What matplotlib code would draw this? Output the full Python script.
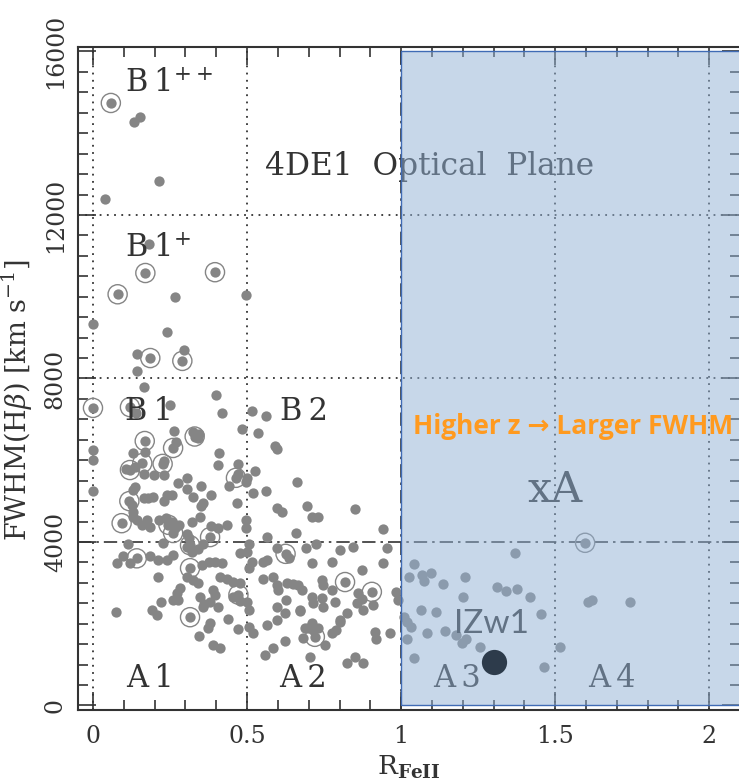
import matplotlib
matplotlib.use("Agg")
import matplotlib.pyplot as plt
from matplotlib.patches import Rectangle
from matplotlib.ticker import MultipleLocator

plt.rcParams['font.family'] = ['DejaVu Serif']
plt.rcParams['mathtext.fontset'] = 'dejavuserif'

# quasar sample: R_FeII vs FWHM(Hbeta) [km/s]
rfe = [0.133, 0.153, 0.215, 0.039, 0.183, 0.266, 0.497, 0.0, 0.24, 0.143,
       0.296, 0.143, 0.167, 0.4,
       0.14, 0.25, 0.42, 0.517, 0.56, 0.483, 0.535, 0.263, 0.268, 0.325,
       0.345, 0.34, 0.13, 0.17, 0.41, 0.232, 0.406, 0.47, 0.597, 0.59,
       0.0, 0.0, 0.0, 0.107, 0.136, 0.165, 0.198, 0.23, 0.47, 0.526,
       0.5, 0.497, 0.277, 0.305, 0.305, 0.35, 0.443, 0.52, 0.562, 0.662,
       0.137, 0.13, 0.166, 0.18, 0.195, 0.24, 0.257, 0.23, 0.128, 0.324,
       0.383, 0.35, 0.358, 0.468, 0.597, 0.613, 0.695, 0.85, 0.71, 0.731,
       0.13, 0.13, 0.142, 0.175, 0.16, 0.186, 0.215, 0.237, 0.255, 0.266,
       0.28, 0.32, 0.347, 0.382, 0.406, 0.436, 0.496, 0.498, 0.564, 0.66,
       0.304, 0.31, 0.94, 0.228, 0.115, 0.305, 0.32, 0.358, 0.34, 0.477,
       0.505, 0.5, 0.597, 0.635, 0.69, 0.724, 0.8, 0.845, 0.955, 0.077,
       0.097, 0.12, 0.185, 0.212, 0.24, 0.26, 0.375, 0.397, 0.418, 0.353,
       0.505, 0.515, 0.553, 0.564, 0.71, 0.775, 0.872, 0.94, 0.212, 0.305,
       0.325, 0.342, 0.412, 0.434, 0.455, 0.477, 0.553, 0.585, 0.597, 0.602,
       0.63, 0.65, 0.666, 0.678, 0.743, 0.747, 0.861, 0.872, 0.983, 0.99,
       0.91, 0.282, 0.272, 0.26, 0.277, 0.347, 0.39, 0.397, 0.477, 0.455,
       0.36, 0.38, 0.406, 0.358, 0.5, 0.505, 0.597, 0.627, 0.672, 0.71,
       0.743, 0.714, 0.747, 0.775, 0.786, 0.802, 0.824, 0.857, 0.877, 0.19,
       0.207, 0.222, 0.075, 0.38, 0.374, 0.438, 0.472, 0.505, 0.52, 0.564,
       0.597, 0.624, 0.672, 0.688, 0.698, 0.714, 0.731, 0.71, 0.682, 0.753,
       0.775, 0.79, 0.8, 0.345, 0.39, 0.412, 0.558, 0.585, 0.624, 0.704,
       0.824, 0.85, 0.877, 0.915, 0.92, 0.963,
       1.37, 1.042, 1.026, 1.068, 1.075, 1.097, 1.136, 1.208, 1.2, 1.312,
       1.341, 1.376, 1.419, 1.455, 1.065, 1.114, 1.01, 1.02, 1.032, 1.084,
       1.143, 1.178, 1.21, 1.197, 1.02, 1.256, 1.516, 1.042, 1.464, 1.607,
       1.62, 1.744]
fwhm = [14270, 14390, 12830, 12390, 11290, 9990, 10040, 9330, 9140, 8600,
        8690, 8190, 7790, 7600,
        7150, 7350, 7150, 7200, 7080, 6760, 6660, 6720, 6440, 6700,
        6650, 6550, 6180, 6200, 6180, 5980, 5880, 5910, 6270, 6350,
        6250, 6000, 5250, 5790, 5830, 5660, 5640, 5640, 5660, 5740,
        5570, 5470, 5450, 5570, 5300, 5380, 5380, 5200, 5250, 5470,
        5350, 5280, 5080, 5080, 5100, 5150, 5150, 5000, 4900, 5100,
        5150, 4880, 4950, 4950, 4830, 4730, 4880, 4800, 4610, 4610,
        4740, 4610, 4540, 4540, 4420, 4370, 4540, 4590, 4500, 4340,
        4420, 4490, 4610, 4390, 4340, 4420, 4540, 4340, 4120, 4220,
        4200, 4100, 4320, 3970, 3950, 3870, 3750, 3950, 3830, 3730,
        3950, 3750, 3850, 3600, 3850, 3950, 3800, 3880, 3850, 3480,
        3660, 3480, 3660, 3560, 3560, 3680, 3510, 3510, 3480, 3440,
        3360, 3510, 3510, 3560, 3480, 3510, 3320, 3480, 3140, 3140,
        3070, 3000, 3140, 3090, 3020, 3000, 3090, 3140, 2950, 2830,
        3000, 2970, 2950, 2830, 3070, 2950, 2750, 2600, 2780, 2580,
        2460, 2880, 2750, 2580, 2580, 2660, 2830, 2710, 2560, 2660,
        2480, 2530, 2410, 2410, 2530, 2340, 2410, 2580, 2340, 2660,
        2620, 2500, 2410, 2830, 2530, 2090, 2260, 2500, 2340, 2340,
        2210, 2530, 2290, 2020, 1900, 2110, 1870, 1920, 1770, 1970,
        2090, 2260, 2310, 1900, 1900, 1850, 1900, 2010, 1650, 1480,
        1770, 1850, 2040, 1700, 1480, 1410, 1240, 1410, 1580, 1190,
        1040, 1190, 1040, 1800, 1630, 1770,
        3730, 3460, 3150, 3190, 3040, 3240, 2970, 3150, 2650, 2900,
        2800, 2850, 2650, 2240, 2340, 2290, 2160, 2040, 1920, 1770,
        1820, 1720, 1630, 1530, 1630, 1430, 1430, 1160, 940, 2530,
        2580, 2530]

# sources marked with an open ring
ring_rfe = [0.058, 0.17, 0.396, 0.08, 0.186, 0.29, 0.0, 0.12, 0.168, 0.26,
            0.33, 0.16, 0.226, 0.12, 0.464, 0.118, 0.093, 0.245, 0.26, 0.38,
            0.315, 0.625, 0.142, 0.315, 0.472, 0.818, 0.905, 0.315, 0.72, 1.597]
ring_fwhm = [14740, 10580, 10600, 10060, 8500, 8430, 7280, 7300, 6470, 6300,
             6580, 5930, 5910, 5760, 5570, 5000, 4460, 4420, 4220, 4120,
             3920, 3710, 3600, 3360, 2710, 3020, 2780, 2160, 1680, 3980]

# I Zw 1
izw1_rfe = 1.30
izw1_fwhm = 1070

dark = '#333333'
grey = '#858585'

fig = plt.figure(figsize=(7.39, 7.84), dpi=100)
ax = fig.add_axes([0.1055, 0.0944, 0.896, 0.8457])

ax.scatter(rfe + ring_rfe, fwhm + ring_fwhm, s=55, color=grey, lw=0, zorder=3)
ax.scatter(ring_rfe, ring_fwhm, s=190, facecolor='none', edgecolor=grey,
           lw=1.0, zorder=3)

# bin boundaries of the optical plane
for xv in [0, 0.5, 1.5, 2.0]:
    ax.axvline(xv, color=dark, ls=(0, (1, 3)), lw=1.3, zorder=2)
for yv in [8000, 12000]:
    ax.axhline(yv, color=dark, ls=(0, (1, 3)), lw=1.3, zorder=2)
ax.axvline(1.0, color=dark, ls=(0, (8, 3, 1.5, 3)), lw=1.2, zorder=2)
ax.axhline(4000, color=dark, ls=(0, (8, 3, 1.5, 3)), lw=1.2, zorder=2)

lab = dict(fontsize=22, color=dark, va='baseline', ha='left', zorder=4)
ax.text(0.105, 15000, 'B\u20091$^{++}$', **lab)
ax.text(0.105, 10970, 'B\u20091$^{+}$', **lab)
ax.text(0.105, 6980, 'B\u20091', **lab)
ax.text(0.607, 6980, 'B\u20092', **lab)
ax.text(0.107, 450, 'A\u20091', **lab)
ax.text(0.604, 450, 'A\u20092', **lab)
ax.text(1.104, 450, 'A\u20093', **lab)
ax.text(1.607, 450, 'A\u20094', **lab)
ax.text(0.558, 12980, '4DE1  Optical  Plane', fontsize=22.5, color=dark,
        va='baseline', ha='left', zorder=4)
ax.text(1.41, 4980, 'xA', fontsize=31, color=dark, va='baseline',
        ha='left', zorder=4)
ax.text(1.17, 1780, 'IZw1', fontsize=24, color=dark, va='baseline',
        ha='left', family=['Lato', 'DejaVu Sans'], zorder=4)

# extreme population A shaded on top
ax.add_patch(Rectangle((1.0, 0), 1.3, 16000, facecolor='#91b1d5', alpha=0.5,
                       edgecolor='none', zorder=5))
ax.add_patch(Rectangle((1.0, 0), 1.3, 16000, facecolor='none',
                       edgecolor='#3f6bb5', lw=1.0, zorder=5))

ax.scatter([izw1_rfe], [izw1_fwhm], s=330, color='#2d3b4b', lw=0, zorder=6)

ax.text(1.04, 6640, 'Higher z \u2192 Larger FWHM', fontsize=19,
        color='#ff9a1f', fontweight='bold', family=['Open Sans', 'DejaVu Sans'],
        va='baseline', ha='left', zorder=7)

ax.set_xlim(-0.0487, 2.1)
ax.set_ylim(-110, 16110)
ax.set_xticks([0, 0.5, 1, 1.5, 2])
ax.set_xticklabels(['0', '0.5', '1', '1.5', '2'])
ax.set_yticks([0, 4000, 8000, 12000, 16000])
ax.xaxis.set_minor_locator(MultipleLocator(0.1))
ax.yaxis.set_minor_locator(MultipleLocator(500))
ax.tick_params(which='both', direction='in', top=True, right=True,
               color=dark, width=1.2, labelcolor=dark, labelsize=17)
ax.tick_params(which='major', length=13)
ax.tick_params(axis='x', which='major', pad=11)
ax.tick_params(axis='y', which='major', pad=8)
ax.tick_params(which='minor', length=7)
for t in ax.get_yticklabels():
    t.set_rotation(90)
    t.set_va('center')
for sp in ax.spines.values():
    sp.set_color(dark)
    sp.set_linewidth(1.5)

ax.set_xlabel('R$_{\\mathbf{FeII}}$', fontsize=19, color=dark, labelpad=4)
ax.set_ylabel('FWHM(H$\\beta$) [km s$^{-1}$]', fontsize=19.5, color=dark)
ax.yaxis.set_label_coords(-0.065, 0.4676)

fig.savefig('out.png', dpi=100)
